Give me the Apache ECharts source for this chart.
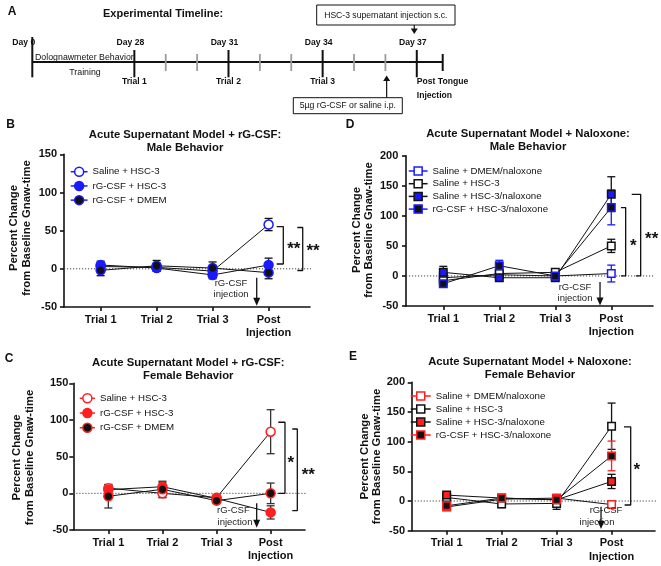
<!DOCTYPE html>
<html><head><meta charset="utf-8">
<script src="https://cdn.jsdelivr.net/npm/echarts@6/dist/echarts.min.js"></script>
<style>html,body{margin:0;padding:0;background:#fff}#c{width:661px;height:566px}</style>
</head><body><div id="c"></div>
<script>
const FONT = "'Liberation Sans', Arial, Helvetica, sans-serif";
const BLUE = '#1a1aff', RED = '#ff1f1f', BLACK = '#111111', WHITE = '#ffffff';

// ---------- shared axis content ----------
const categories = ['Trial 1', 'Trial 2', 'Trial 3', 'Post\nInjection'];
const catX = [1, 2, 3, 4];

// ---------- Panel B: rG-CSF, male ----------
const bSalHsc = [3, 2, -3, 58];     const bSalHscErr = [4, 4, 5, 8];
const bRgHsc = [5, 1, -8, 5];       const bRgHscErr = [5, 4, 5, 9];
const bRgDmem = [-2, 4, 1, -5];     const bRgDmemErr = [7, 7, 8, 8];
// ---------- Panel C: rG-CSF, female ----------
const cSalHsc = [7, 0, -6, 84];     const cSalHscErr = [5, 6, 4, 30];
const cRgHsc = [5, 9, -7, -26];     const cRgHscErr = [6, 6, 4, 9];
const cRgDmem = [-4, 5.5, -10, 0];  const cRgDmemErr = [16, 11, 4, 14];
// ---------- Panel D: naloxone, male ----------
const dSalDmemNal = [-3, 2, 0, 4];     const dSalDmemNalErr = [8, 6, 4, 14];
const dSalHsc = [-8, 4, 6, 50];        const dSalHscErr = [8, 8, 4, 11];
const dSalHscNal = [6, -3, -3, 136];   const dSalHscNalErr = [10, 6, 4, 29];
const dRgHscNal = [-13, 17, 0, 114];   const dRgHscNalErr = [6, 9, 4, 29];
// ---------- Panel E: naloxone, female ----------
const eSalDmemNal = [-10, 3, 5, -6];   const eSalDmemNalErr = [6, 4, 3, 3];
const eSalHsc = [6, -5, -4, 126];      const eSalHscErr = [6, 6, 10, 39];
const eSalHscNal = [10, 5, 2, 33];     const eSalHscNalErr = [5, 4, 3, 12];
const eRgHscNal = [-8, 5, 2, 76];      const eRgHscNalErr = [6, 4, 3, 25];

// ---------- Panel A: timeline ----------
const tlMajorDays = ['Day 0', 'Day 28', 'Day 31', 'Day 34', 'Day 37'];
const tlMajorPos = [24.748, 28, 31, 34, 37];   // day 0 sits on a broken axis
const tlMinorPos = [29, 30, 32, 33, 35, 36];
const tlEndPos = 37.826;
const tlTrials = ['Trial 1', 'Trial 2', 'Trial 3'];
const tlTrialPos = [28, 31, 34];

const panels = [
  { key: 'B', grid: { left: 64, top: 154.3, width: 246, height: 152.7 }, xMin: 0.345, xMax: 4.74, yMin: -50, yMax: 150, yMargin: 7,
    symbol: 'circle', symbolSize: 9,
    legend: { left: 70, top: 166.1, itemWidth: 16.8, itemHeight: 11.25, itemGap: 2.95 },
    groups: [
      { name: 'Saline + HSC-3', vals: bSalHsc, err: bSalHscErr, fill: WHITE, border: BLUE, errColor: BLACK, legLine: BLUE },
      { name: 'rG-CSF + HSC-3', vals: bRgHsc, err: bRgHscErr, fill: BLUE, border: BLUE, errColor: BLACK, legLine: BLUE },
      { name: 'rG-CSF + DMEM', vals: bRgDmem, err: bRgDmemErr, fill: BLACK, border: BLUE, errColor: BLACK, legLine: BLUE }
    ],
    zeroEnd: 5.0,
    brackets: [[[4.145, 55.4], [4.263, 55.4], [4.263, 6.3], [4.145, 6.3]], [[4.513, 54.1], [4.61, 54.1], [4.61, -2.2], [4.513, -2.2]]],
    texts: [{ x: 4.451, y: 31.4, t: '**', star: true }, { x: 4.794, y: 28.8, t: '**', star: true }, { x: 3.329, y: -18.7, t: 'rG-CSF' }, { x: 3.329, y: -34, t: 'injection' }],
    arrow: { x: 3.788, y1: -11.8, y2: -48.5 } },
  { key: 'D', grid: { left: 406, top: 155.7, width: 247, height: 150.3 }, xMin: 0.334, xMax: 4.745, yMin: -50, yMax: 200, yMargin: 7.7,
    symbol: 'rect', symbolSize: 7.5,
    legend: { left: 408, top: 166, itemWidth: 18.8, itemHeight: 10, itemGap: 2.7 },
    groups: [
      { name: 'Saline + DMEM/naloxone', vals: dSalDmemNal, err: dSalDmemNalErr, fill: WHITE, border: BLUE, errColor: BLUE, legLine: BLUE },
      { name: 'Saline + HSC-3', vals: dSalHsc, err: dSalHscErr, fill: WHITE, border: BLACK, errColor: BLACK, legLine: BLACK },
      { name: 'Saline + HSC-3/naloxone', vals: dSalHscNal, err: dSalHscNalErr, fill: BLUE, border: BLACK, errColor: BLACK, legLine: BLACK },
      { name: 'rG-CSF + HSC-3/naloxone', vals: dRgHscNal, err: dRgHscNalErr, fill: BLACK, border: BLUE, errColor: BLUE, legLine: BLUE }
    ],
    zeroEnd: 4.87,
    brackets: [[[4.173, 113.7], [4.257, 113.7], [4.257, 0], [4.173, 0]], [[4.365, 135.7], [4.525, 135.7], [4.525, 0], [4.44, 0]]],
    texts: [{ x: 4.393, y: 56.7, t: '*', star: true }, { x: 4.722, y: 67.8, t: '**', star: true }, { x: 3.352, y: -18.3, t: 'rG-CSF' }, { x: 3.352, y: -36.7, t: 'injection' }],
    arrow: { x: 3.799, y1: -10, y2: -49 } },
  { key: 'C', grid: { left: 73.3, top: 383.3, width: 231.7, height: 146.7 }, xMin: 0.352, xMax: 4.635, yMin: -50, yMax: 150, yMargin: 5,
    symbol: 'circle', symbolSize: 9,
    legend: { left: 79, top: 392.7, itemWidth: 15.2, itemHeight: 11.25, itemGap: 3.45 },
    groups: [
      { name: 'Saline + HSC-3', vals: cSalHsc, err: cSalHscErr, fill: WHITE, border: RED, errColor: '#333', legLine: RED },
      { name: 'rG-CSF + HSC-3', vals: cRgHsc, err: cRgHscErr, fill: RED, border: RED, errColor: '#333', legLine: RED },
      { name: 'rG-CSF + DMEM', vals: cRgDmem, err: cRgDmemErr, fill: BLACK, border: RED, errColor: '#333', legLine: RED }
    ],
    zeroEnd: 5.06,
    brackets: [[[4.141, 96.9], [4.265, 96.9], [4.265, 0], [4.141, 0]], [[4.40, 87.7], [4.493, 87.7], [4.493, -23.7], [4.40, -23.7]]],
    texts: [{ x: 4.371, y: 47.7, t: '*', star: true }, { x: 4.696, y: 30.8, t: '**', star: true }, { x: 3.310, y: -22.8, t: 'rG-CSF' }, { x: 3.341, y: -39.6, t: 'injection' }],
    arrow: { x: 3.742, y1: -13.6, y2: -47 } },
  { key: 'E', grid: { left: 411.7, top: 382.3, width: 243.3, height: 148.4 }, xMin: 0.364, xMax: 4.79, yMin: -50, yMax: 200, yMargin: 6.7,
    symbol: 'rect', symbolSize: 7.5,
    legend: { left: 410, top: 391, itemWidth: 20, itemHeight: 10, itemGap: 3 },
    groups: [
      { name: 'Saline + DMEM/naloxone', vals: eSalDmemNal, err: eSalDmemNalErr, fill: WHITE, border: RED, errColor: RED, legLine: RED },
      { name: 'Saline + HSC-3', vals: eSalHsc, err: eSalHscErr, fill: WHITE, border: BLACK, errColor: BLACK, legLine: BLACK },
      { name: 'Saline + HSC-3/naloxone', vals: eSalHscNal, err: eSalHscNalErr, fill: RED, border: BLACK, errColor: BLACK, legLine: BLACK },
      { name: 'rG-CSF + HSC-3/naloxone', vals: eRgHscNal, err: eRgHscNalErr, fill: BLACK, border: RED, errColor: RED, legLine: RED }
    ],
    zeroEnd: 4.85,
    brackets: [[[4.226, 125], [4.348, 125], [4.348, -6.7], [4.237, -6.7]]],
    texts: [{ x: 4.457, y: 58.9, t: '*', star: true }, { x: 3.899, y: -15.2, t: 'rG-CSF' }, { x: 3.735, y: -35.9, t: 'injection' }],
    arrow: { x: 3.808, y1: -9.6, y2: -47 } }
];

const grids = [], xAxes = [], yAxes = [], series = [], legends = [];
const axisLineStyle = { color: BLACK, width: 1.6 };

panels.forEach((p, i) => {
  grids.push(Object.assign({ containLabel: false }, p.grid));
  xAxes.push({
    type: 'value', gridIndex: i, min: p.xMin, max: p.xMax,
    axisLine: { show: true, lineStyle: axisLineStyle, onZero: false },
    axisTick: { show: true, length: 4, lineStyle: { color: BLACK, width: 1.6 }, customValues: catX },
    axisLabel: { show: true, customValues: catX, margin: 6, fontSize: 11, fontWeight: 'bold', fontFamily: FONT, color: BLACK, lineHeight: 13.5,
      formatter: v => categories[Math.round(v) - 1] || '' },
    splitLine: { show: false }
  });
  yAxes.push({
    type: 'value', gridIndex: i, min: p.yMin, max: p.yMax, interval: 50,
    axisLine: { show: true, lineStyle: axisLineStyle, onZero: false },
    axisTick: { show: true, length: 4, lineStyle: { color: BLACK, width: 1.6 } },
    axisLabel: { margin: p.yMargin, fontSize: 11, fontWeight: 'bold', fontFamily: FONT, color: BLACK },
    splitLine: { show: false }
  });
  // dotted zero line
  series.push({ type: 'line', xAxisIndex: i, yAxisIndex: i, data: [[p.xMin, 0], [p.zeroEnd, 0]], symbol: 'none', clip: false, silent: true,
    lineStyle: { color: '#444', width: 1, type: [1.2, 1.8] }, z: 1 });
  const legData = [];
  p.groups.forEach((g, k) => {
    const nm = p.key + '|' + g.name;
    series.push({ type: 'line', name: nm, xAxisIndex: i, yAxisIndex: i,
      data: g.vals.map((v, j) => [catX[j], v]),
      symbol: p.symbol, symbolSize: p.symbolSize, showSymbol: true, clip: false,
      itemStyle: { color: g.fill, borderColor: g.border, borderWidth: 1.5, opacity: 1 },
      lineStyle: { color: BLACK, width: 1 }, emphasis: { disabled: true }, z: 4 + k });
    series.push({ type: 'custom', name: nm, xAxisIndex: i, yAxisIndex: i, coordinateSystem: 'cartesian2d', clip: false,
      data: g.vals.map((v, j) => [catX[j], v, g.err[j]]), encode: { x: 0, y: 1 }, z: 3,
      renderItem: (params, api) => {
        const x = api.value(0), y = api.value(1), e = api.value(2);
        const t = api.coord([x, y + e]), b = api.coord([x, y - e]);
        const h = 4, st = { stroke: g.errColor, lineWidth: 1.3 };
        return { type: 'group', children: [
          { type: 'line', shape: { x1: t[0], y1: t[1], x2: b[0], y2: b[1] }, style: st },
          { type: 'line', shape: { x1: t[0] - h, y1: t[1], x2: t[0] + h, y2: t[1] }, style: st },
          { type: 'line', shape: { x1: b[0] - h, y1: b[1], x2: b[0] + h, y2: b[1] }, style: st } ] };
      } });
    legData.push({ name: nm, itemStyle: { borderWidth: 1.5, borderColor: g.border, color: g.fill }, lineStyle: { color: g.legLine, width: 1.5 } });
  });
  legends.push({ orient: 'vertical', left: p.legend.left, top: p.legend.top, padding: 0,
    itemWidth: p.legend.itemWidth, itemHeight: p.legend.itemHeight, itemGap: p.legend.itemGap, selectedMode: false,
    data: legData, formatter: n => n.split('|')[1],
    textStyle: { fontSize: 9.7, fontFamily: FONT, color: BLACK, lineHeight: p.legend.itemHeight } });
  // significance brackets
  p.brackets.forEach(br => {
    series.push({ type: 'line', xAxisIndex: i, yAxisIndex: i, data: br, symbol: 'none', clip: false, silent: true,
      lineStyle: { color: BLACK, width: 1.3 }, z: 2 });
  });
  // stars and notes
  series.push({ type: 'custom', xAxisIndex: i, yAxisIndex: i, coordinateSystem: 'cartesian2d', clip: false, silent: true, z: 6,
    data: p.texts.map(t => [t.x, t.y]), encode: { x: 0, y: 1 },
    renderItem: (params, api) => {
      const c = api.coord([api.value(0), api.value(1)]);
      const sp = p.texts[params.dataIndex];
      const fs = sp.star ? 17 : 9.5;
      return { type: 'text', x: c[0], y: c[1] + (sp.star ? fs * 0.27 : 0),
        style: { text: sp.t, fontSize: fs, fontWeight: sp.star ? 'bold' : 'normal', fontFamily: FONT, fill: sp.star ? BLACK : '#222',
          align: 'center', verticalAlign: 'middle', textAlign: 'center', textVerticalAlign: 'middle' } };
    } });
  // injection arrow
  series.push({ type: 'custom', xAxisIndex: i, yAxisIndex: i, coordinateSystem: 'cartesian2d', clip: false, silent: true, z: 6,
    data: [[p.arrow.x, p.arrow.y1, p.arrow.y2]], encode: { x: 0, y: 1 },
    renderItem: (params, api) => {
      const a = api.coord([api.value(0), api.value(1)]), b = api.coord([api.value(0), api.value(2)]);
      const hh = 8, hw = 3.5;
      return { type: 'group', children: [
        { type: 'line', shape: { x1: a[0], y1: a[1], x2: b[0], y2: b[1] - hh + 1 }, style: { stroke: BLACK, lineWidth: 1.3 } },
        { type: 'polygon', shape: { points: [[b[0] - hw, b[1] - hh], [b[0] + hw, b[1] - hh], [b[0], b[1]]] }, style: { fill: BLACK } } ] };
    } });
});

// ---------- timeline (panel A) ----------
const TI = panels.length;
grids.push({ left: 32.3, top: 0, width: 410.4, height: 110 });
xAxes.push({ type: 'value', gridIndex: TI, min: tlMajorPos[0], max: tlEndPos, show: false });
yAxes.push({ type: 'value', gridIndex: TI, min: 0, max: 110, inverse: true, show: false });
series.push({ type: 'line', xAxisIndex: TI, yAxisIndex: TI, data: [[tlMajorPos[0], 62], [tlEndPos, 62]], symbol: 'none', clip: false, silent: true,
  lineStyle: { color: BLACK, width: 2 }, z: 2 });
const tlTicks = []
  .concat(tlMajorPos.map((d, j) => [d, j === 0 ? 37 : 50, 77.3, 0]))
  .concat([[tlEndPos, 54, 71, 0]])
  .concat(tlMinorPos.map(d => [d, 54, 71, 1]));
series.push({ type: 'custom', xAxisIndex: TI, yAxisIndex: TI, coordinateSystem: 'cartesian2d', clip: false, silent: true, z: 3,
  data: tlTicks, encode: { x: 0, y: 1 },
  renderItem: (params, api) => {
    const a = api.coord([api.value(0), api.value(1)]), b = api.coord([api.value(0), api.value(2)]);
    const gray = api.value(3) === 1;
    return { type: 'line', shape: { x1: a[0], y1: a[1], x2: b[0], y2: b[1] }, style: { stroke: gray ? '#9c9c9c' : BLACK, lineWidth: gray ? 1.8 : 2 } };
  } });
const tlTexts = []
  .concat(tlMajorDays.map((t, j) => ({ x: tlMajorPos[j], y: 42.7, t, bold: true, align: j === 0 ? 'right' : 'center', dx: j === 0 ? 3 : -4 })))
  .concat(tlTrials.map((t, j) => ({ x: tlTrialPos[j], y: 81.7, t, bold: true, align: 'center', dx: 0 })))
  .concat([{ x: 37, y: 81.7, t: 'Post Tongue', bold: true, align: 'left', dx: 0 }, { x: 37, y: 95.7, t: 'Injection', bold: true, align: 'left', dx: 0 },
    { x: 24.834, y: 57.3, t: 'Dolognawmeter Behavior', bold: false, align: 'left', dx: 0 },
    { x: 26.427, y: 72.7, t: 'Training', bold: false, align: 'center', dx: 0 }]);
series.push({ type: 'custom', xAxisIndex: TI, yAxisIndex: TI, coordinateSystem: 'cartesian2d', clip: false, silent: true, z: 4,
  data: tlTexts.map(t => [t.x, t.y]), encode: { x: 0, y: 1 },
  renderItem: (params, api) => {
    const c = api.coord([api.value(0), api.value(1)]);
    const sp = tlTexts[params.dataIndex];
    return { type: 'text', x: c[0] + sp.dx, y: c[1],
      style: { text: sp.t, fontSize: sp.bold ? 8.6 : 8.8, fontWeight: sp.bold ? 'bold' : 'normal', fontFamily: FONT, fill: BLACK,
        align: sp.align, textAlign: sp.align, verticalAlign: 'middle', textVerticalAlign: 'middle' } };
  } });
// timeline arrows: HSC-3 injection (down) and rG-CSF (up)
const tlArrows = [[36.92, 25, 34], [36.04, 97.7, 75.5]];
series.push({ type: 'custom', xAxisIndex: TI, yAxisIndex: TI, coordinateSystem: 'cartesian2d', clip: false, silent: true, z: 4,
  data: tlArrows, encode: { x: 0, y: 1 },
  renderItem: (params, api) => {
    const a = api.coord([api.value(0), api.value(1)]), b = api.coord([api.value(0), api.value(2)]);
    const dir = b[1] > a[1] ? 1 : -1, hh = 5.5, hw = 3.5;
    return { type: 'group', children: [
      { type: 'line', shape: { x1: a[0], y1: a[1], x2: b[0], y2: b[1] - dir * (hh - 1) }, style: { stroke: BLACK, lineWidth: 1.2 } },
      { type: 'polygon', shape: { points: [[b[0] - hw, b[1] - dir * hh], [b[0] + hw, b[1] - dir * hh], [b[0], b[1]]] }, style: { fill: BLACK } } ] };
  } });

// ---------- static text ----------
function txt(x, y, text, size, bold, opts) {
  return Object.assign({ type: 'text', x, y, z: 10, silent: true,
    style: { text, fontSize: size, fontWeight: bold ? 'bold' : 'normal', fontFamily: FONT, fill: BLACK,
      align: 'center', textAlign: 'center', verticalAlign: 'middle', textVerticalAlign: 'middle', lineHeight: (opts && opts.lh) || size * 1.15 } }, opts && opts.el);
}
const yTitle = 'Percent Change\nfrom Baseline Gnaw-time';
const graphic = [
  txt(12, 11.7, 'A', 12, true),
  { type: 'text', x: 103, y: 14.3, z: 10, style: { text: 'Experimental Timeline:', fontSize: 11, fontWeight: 'bold', fontFamily: FONT, fill: BLACK, align: 'left', textAlign: 'left', verticalAlign: 'middle', textVerticalAlign: 'middle' } },
  { type: 'rect', z: 9, shape: { x: 316.7, y: 5, width: 138.3, height: 20 }, style: { fill: '#fff', stroke: BLACK, lineWidth: 1 } },
  txt(385.8, 15.2, 'HSC-3 supernatant injection s.c.', 8.6, false),
  { type: 'rect', z: 9, shape: { x: 293.3, y: 97.7, width: 109, height: 16 }, style: { fill: '#fff', stroke: BLACK, lineWidth: 1 } },
  txt(347.8, 105.8, '5µg rG-CSF or saline i.p.', 8.7, false),
  txt(10.7, 125, 'B', 12, true), txt(350, 125, 'D', 12, true), txt(9, 359, 'C', 12, true), txt(353, 356.7, 'E', 12, true),
  txt(185, 141.2, 'Acute Supernatant Model + rG-CSF:\nMale Behavior', 11.3, true, { lh: 12.4 }),
  txt(528, 140.4, 'Acute Supernatant Model + Naloxone:\nMale Behavior', 11.3, true, { lh: 12.6 }),
  txt(188.3, 369.5, 'Acute Supernatant Model + rG-CSF:\nFemale Behavior', 11.3, true, { lh: 12.4 }),
  txt(530, 368.3, 'Acute Supernatant Model + Naloxone:\nFemale Behavior', 11.3, true, { lh: 12.2 }),
  txt(20, 228, yTitle, 11.3, true, { lh: 13, el: { rotation: Math.PI / 2 } }),
  txt(363, 230, yTitle, 11.3, true, { lh: 12.6, el: { rotation: Math.PI / 2 } }),
  txt(23.3, 457.5, yTitle, 11.3, true, { lh: 12.2, el: { rotation: Math.PI / 2 } }),
  txt(370.8, 456.5, yTitle, 11.3, true, { lh: 11.8, el: { rotation: Math.PI / 2 } })
];

const chart = echarts.init(document.getElementById('c'), null, { renderer: 'canvas', width: 661, height: 566 });
chart.setOption({ animation: false, backgroundColor: '#fff', grid: grids, xAxis: xAxes, yAxis: yAxes, legend: legends, series, graphic });
</script></body></html>
